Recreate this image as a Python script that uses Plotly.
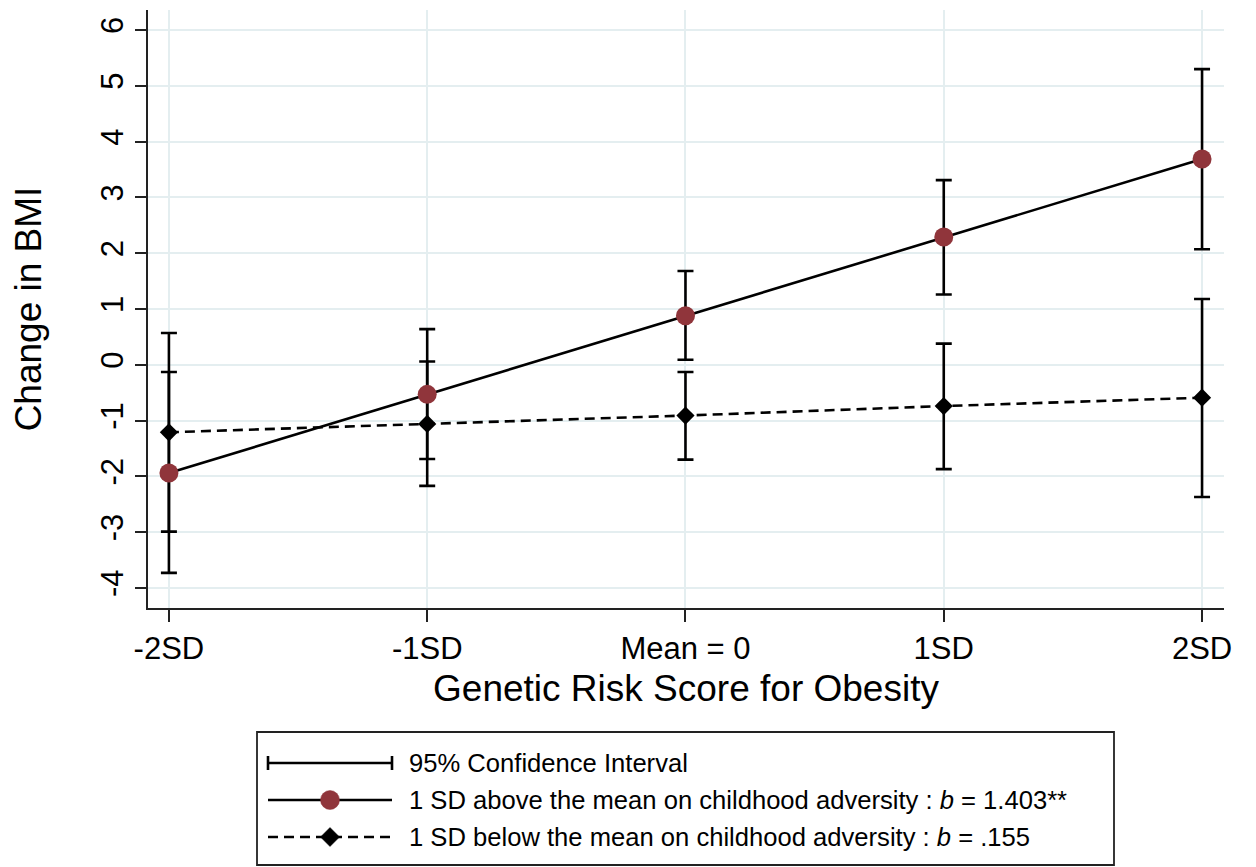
import plotly.graph_objects as go

# ---------------- data ----------------
categories = ["-2SD", "-1SD", "Mean = 0", "1SD", "2SD"]

above_est = [-1.94, -0.53, 0.88, 2.29, 3.69]
above_lo = [-3.73, -1.69, 0.09, 1.26, 2.07]
above_hi = [-0.13, 0.64, 1.68, 3.31, 5.30]

below_est = [-1.21, -1.06, -0.91, -0.74, -0.59]
below_lo = [-2.99, -2.17, -1.70, -1.87, -2.37]
below_hi = [0.57, 0.06, -0.13, 0.38, 1.18]

y_ticks = [-4, -3, -2, -1, 0, 1, 2, 3, 4, 5, 6]
y_ticktext = ["-4", "-3", "-2", "-1", "0", "1", "2", "3", "4", "5", "6"]

legend_labels = [
    "95% Confidence Interval",
    "1 SD above the mean on childhood adversity : <i>b</i> = 1.403**",
    "1 SD below the mean on childhood adversity : <i>b</i> = .155",
]

# ---------------- style ----------------
FONT = "Liberation Sans, Arial, sans-serif"
RED = "#90353b"
GRID = "#e4eef0"
OFF = 8  # page body margin
W, H = 1256 - OFF, 867 - OFF
ML, MT = 148 - OFF, 10 - OFF
MR = W - (1224 - OFF)
MB = H - (608 - OFF)
PW, PH = W - ML - MR, H - MT - MB


def px(x):
    return (x - OFF - ML) / PW


def py(y):
    return (H - MB - (y - OFF)) / PH


fig = go.Figure()

err_style = dict(type="data", symmetric=False, color="black", thickness=2.6, width=8)

# error bars (drawn first)
fig.add_trace(go.Scatter(
    x=categories, y=below_est, mode="markers",
    marker=dict(size=1, color="rgba(0,0,0,0)"),
    error_y=dict(array=[h - e for h, e in zip(below_hi, below_est)],
                 arrayminus=[e - l for l, e in zip(below_lo, below_est)], **err_style),
    showlegend=False, hoverinfo="skip"))
fig.add_trace(go.Scatter(
    x=categories, y=above_est, mode="markers",
    marker=dict(size=1, color="rgba(0,0,0,0)"),
    error_y=dict(array=[h - e for h, e in zip(above_hi, above_est)],
                 arrayminus=[e - l for l, e in zip(above_lo, above_est)], **err_style),
    showlegend=False, hoverinfo="skip"))

# lines + markers
fig.add_trace(go.Scatter(
    x=categories, y=below_est, mode="lines+markers",
    line=dict(color="black", width=2.6, dash="10px,6px"),
    marker=dict(symbol="diamond", size=14, color="black"),
    showlegend=False))
fig.add_trace(go.Scatter(
    x=categories, y=above_est, mode="lines+markers",
    line=dict(color="black", width=2.6),
    marker=dict(symbol="circle", size=19, color=RED),
    showlegend=False))

# ---------------- manual legend ----------------
shapes = []
annotations = []
shapes.append(dict(type="rect", xref="paper", yref="paper",
                   x0=px(257), x1=px(1114), y0=py(732), y1=py(865),
                   line=dict(color="#222", width=1.8), fillcolor="white", layer="above"))
rows = [763, 800, 837]
gx0, gx1, gmid = 268, 392, 330
# CI glyph
shapes.append(dict(type="line", xref="paper", yref="paper",
                   x0=px(gx0), x1=px(gx1), y0=py(rows[0]), y1=py(rows[0]),
                   line=dict(color="black", width=2.6)))
for gx in (gx0, gx1):
    shapes.append(dict(type="line", xref="paper", yref="paper",
                       x0=px(gx), x1=px(gx), y0=py(rows[0] - 7), y1=py(rows[0] + 7),
                       line=dict(color="black", width=2.6)))
# above glyph
shapes.append(dict(type="line", xref="paper", yref="paper",
                   x0=px(gx0), x1=px(gx1), y0=py(rows[1]), y1=py(rows[1]),
                   line=dict(color="black", width=2.6)))
shapes.append(dict(type="circle", xref="paper", yref="paper",
                   xsizemode="pixel", ysizemode="pixel",
                   xanchor=px(gmid), yanchor=py(rows[1]),
                   x0=-9.5, x1=9.5, y0=-9.5, y1=9.5,
                   fillcolor=RED, line=dict(color=RED, width=0.5)))
# below glyph
shapes.append(dict(type="line", xref="paper", yref="paper",
                   x0=px(gx0), x1=px(gx1), y0=py(rows[2]), y1=py(rows[2]),
                   line=dict(color="black", width=2.6, dash="10px,6px")))
shapes.append(dict(type="path", xref="paper", yref="paper",
                   xsizemode="pixel", ysizemode="pixel",
                   xanchor=px(gmid), yanchor=py(rows[2]),
                   path="M 0 9.5 L 9.5 0 L 0 -9.5 L -9.5 0 Z",
                   fillcolor="black", line=dict(color="black", width=0.5)))
for r, lab in zip(rows, legend_labels):
    annotations.append(dict(xref="paper", yref="paper", x=px(407), y=py(r),
                            xanchor="left", yanchor="middle", showarrow=False,
                            text=lab, font=dict(family=FONT, size=25.6, color="black")))

fig.update_layout(
    width=W, height=H,
    margin=dict(l=ML, r=MR, t=MT, b=MB, autoexpand=False),
    paper_bgcolor="white", plot_bgcolor="white",
    font=dict(family=FONT, color="black"),
    shapes=shapes, annotations=annotations,
    showlegend=False,
)
fig.update_xaxes(
    type="category", range=[-0.081, 4.085], automargin=False,
    showgrid=True, gridcolor=GRID, gridwidth=1.5,
    showline=True, linecolor="#222", linewidth=1.8,
    ticks="outside", ticklen=12, tickwidth=1.8, tickcolor="#222",
    tickfont=dict(size=31, family=FONT, color="black"),
    title=dict(text="Genetic Risk Score for Obesity", font=dict(size=37, family=FONT), standoff=10),
    zeroline=False,
)
fig.update_yaxes(
    range=[-4.36, 6.36], tickvals=y_ticks, ticktext=y_ticktext, automargin=False,
    showgrid=True, gridcolor=GRID, gridwidth=1.5,
    showline=True, linecolor="#222", linewidth=1.8,
    ticks="outside", ticklen=11, tickwidth=1.8, tickcolor="#222",
    tickangle=-90,
    tickfont=dict(size=31, family=FONT, color="black"),
    title=dict(text="Change in BMI", font=dict(size=37, family=FONT), standoff=45),
    zeroline=False,
)

fig.write_html("out.html")
